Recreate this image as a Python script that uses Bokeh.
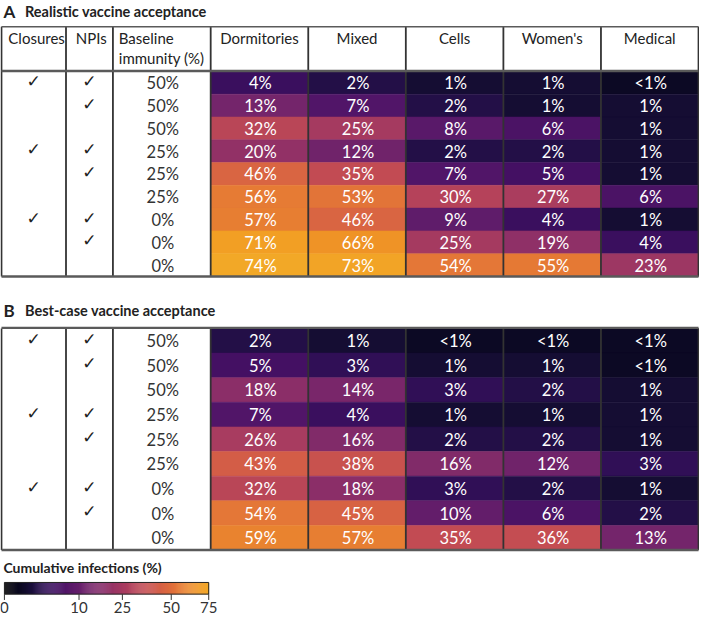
import numpy as np
from bokeh.plotting import figure
from bokeh.models import Range1d
from bokeh.core.properties import value
from bokeh.palettes import Inferno256
from bokeh.embed import file_html
from bokeh.resources import INLINE

# ---------------- data ----------------
settings = ["Dormitories", "Mixed", "Cells", "Women's", "Medical"]
closures = [1, 0, 0, 1, 0, 0, 1, 0, 0]
npis = [1, 1, 0, 1, 1, 0, 1, 1, 0]
baseline = [50, 50, 50, 25, 25, 25, 0, 0, 0]
# 0.5 stands for "<1%"
realistic = [
    [4, 2, 1, 1, 0.5],
    [13, 7, 2, 1, 1],
    [32, 25, 8, 6, 1],
    [20, 12, 2, 2, 1],
    [46, 35, 7, 5, 1],
    [56, 53, 30, 27, 6],
    [57, 46, 9, 4, 1],
    [71, 66, 25, 19, 4],
    [74, 73, 54, 55, 23],
]
best_case = [
    [2, 1, 0.5, 0.5, 0.5],
    [5, 3, 1, 1, 0.5],
    [18, 14, 3, 2, 1],
    [7, 4, 1, 1, 1],
    [26, 16, 2, 2, 1],
    [43, 38, 16, 12, 3],
    [32, 18, 3, 2, 1],
    [54, 45, 10, 6, 2],
    [59, 57, 35, 36, 13],
]
cbar_ticks = [0, 10, 25, 50, 75]
VMAX = 75.0
PAL_FRAC = 0.8

FONT = value("Lato")
CHECK_FONT = value("DejaVu Sans")


def frac(v):
    return np.sqrt(min(max(v, 0), VMAX) / VMAX)


def colour_at(p):
    h = Inferno256[int(round(p * PAL_FRAC * 255))]
    r, g, b = int(h[1:3], 16), int(h[3:5], 16), int(h[5:7], 16)
    L = 0.3 * r + 0.59 * g + 0.11 * b
    d = 0.12
    r, g, b = [c * (1 - d) + L * d for c in (r, g, b)]
    w = 0.05 * p
    r, g, b = [min(255, int(round(c + (255 - c) * w))) for c in (r, g, b)]
    return "#%02x%02x%02x" % (r, g, b)


def label(v):
    return "<1%" if v < 1 else f"{int(v)}%"


W, H = 699, 615
p = figure(width=W, height=H, x_range=Range1d(0, 715), y_range=Range1d(631, -2),
           output_backend="svg", toolbar_location=None, min_border=0,
           outline_line_color=None, background_fill_color="white")
p.axis.visible = False
p.grid.visible = False

# layout (reference pixel space)
LEFT_EDGES = [1, 67, 115, 215]
HEAT_L = 215.0
HEAT_W = 99.8
RIGHT = HEAT_L + HEAT_W * len(settings)
CLOS_X, NPI_X, BASE_X = 34, 91, 166
GRID_C = "#333333"
RULE_C = "#5a5a5a"
TXT = "#222222"


def draw_panel(letter, title, title_y, data, rows_top, row_h, header):
    p.text(x=[3], y=[title_y], text=[letter], text_font=FONT, text_font_style="bold",
           text_font_size="17px", text_baseline="middle", text_color=TXT)
    p.text(x=[25], y=[title_y], text=[title], text_font=FONT, text_font_style="bold",
           text_font_size="14.5px", text_baseline="middle", text_color=TXT)
    n = len(data)
    table_top = rows_top
    if header is not None:
        table_top = header
        hy = header + 11.5
        p.text(x=[8, 77, 121], y=[hy] * 3, text=["Closures", "NPIs", "Baseline"],
               text_font=FONT, text_font_size="15px", text_baseline="middle",
               text_color=TXT)
        p.text(x=[121], y=[hy + 21], text=["immunity (%)"], text_font=FONT,
               text_font_size="15px", text_baseline="middle", text_color=TXT)
        cx = [HEAT_L + HEAT_W * (j + 0.5) for j in range(len(settings))]
        p.text(x=cx, y=[hy] * len(settings), text=settings, text_font=FONT,
               text_font_size="15px", text_baseline="middle", text_align="center",
               text_color=TXT)
    bottom = rows_top + row_h * n
    # cells
    lefts, rights, tops, bots, cols, xs, ys, labs = [], [], [], [], [], [], [], []
    for i, row in enumerate(data):
        for j, v in enumerate(row):
            l = HEAT_L + HEAT_W * j
            t = rows_top + row_h * i
            lefts.append(l)
            rights.append(l + HEAT_W)
            tops.append(t)
            bots.append(t + row_h)
            cols.append(colour_at(frac(v)))
            xs.append(l + HEAT_W / 2 + 1)
            ys.append(t + row_h / 2 + 0.5)
            labs.append(label(v))
    p.quad(left=lefts, right=rights, top=tops, bottom=bots, fill_color=cols,
           line_color=cols, line_width=0.5)
    p.text(x=xs, y=ys, text=labs, text_font=FONT, text_font_size="16.5px",
           text_baseline="middle", text_align="center", text_color="white")
    # left columns
    rc = [rows_top + row_h * (i + 0.5) for i in range(n)]
    cy = [y - 2 for y, c in zip(rc, closures) if c]
    p.text(x=[CLOS_X] * len(cy), y=cy, text=["✓"] * len(cy), text_font=CHECK_FONT,
           text_font_size="17px", text_baseline="middle", text_align="center",
           text_color=TXT)
    ny = [y - 2 for y, c in zip(rc, npis) if c]
    p.text(x=[NPI_X] * len(ny), y=ny, text=["✓"] * len(ny), text_font=CHECK_FONT,
           text_font_size="17px", text_baseline="middle", text_align="center",
           text_color=TXT)
    p.text(x=[BASE_X] * n, y=[y + 0.5 for y in rc], text=[f"{b}%" for b in baseline],
           text_font=FONT, text_font_size="16.5px", text_baseline="middle",
           text_align="center", text_color="#333333")
    # grid lines
    vx = LEFT_EDGES + [HEAT_L + HEAT_W * (j + 1) for j in range(len(settings))]
    p.segment(x0=vx, x1=vx, y0=[table_top] * len(vx), y1=[bottom] * len(vx),
              line_color=GRID_C, line_width=1.8)
    if header is not None:
        p.segment(x0=[1], x1=[RIGHT], y0=[table_top], y1=[table_top],
                  line_color=RULE_C, line_width=1.5)
    p.segment(x0=[1], x1=[RIGHT], y0=[rows_top - 0.5], y1=[rows_top - 0.5],
              line_color=RULE_C, line_width=2.4)
    p.segment(x0=[1], x1=[RIGHT], y0=[bottom], y1=[bottom],
              line_color=RULE_C, line_width=2.4)


draw_panel("A", "Realistic vaccine acceptance", 9, realistic, 71.0, 23.45, 25)
draw_panel("B", "Best-case vaccine acceptance", 317, best_case, 335.5, 25.35, None)

# ---------------- colour bar ----------------
CB_L, CB_R, CB_T, CB_B = 4.0, 213.0, 597.0, 609.0
p.text(x=[3], y=[582], text=["Cumulative infections (%)"], text_font=FONT,
       text_font_style="bold", text_font_size="14px", text_baseline="middle",
       text_color=TXT)
nseg = 200
edges = np.linspace(CB_L, CB_R, nseg + 1)
seg_cols = [colour_at((k + 0.5) / nseg) for k in range(nseg)]
p.quad(left=edges[:-1], right=edges[1:] + 0.3, top=[CB_T] * nseg, bottom=[CB_B] * nseg,
       fill_color=seg_cols, line_color=None)
p.quad(left=[CB_L], right=[CB_R], top=[CB_T], bottom=[CB_B], fill_color=None,
       line_color="#222222", line_width=1)
tx = [CB_L + frac(v) * (CB_R - CB_L) for v in cbar_ticks]
p.segment(x0=tx, x1=tx, y0=[CB_B] * len(tx), y1=[CB_B + 6] * len(tx),
          line_color="#333333", line_width=1)
p.text(x=tx, y=[CB_B + 14] * len(tx), text=[str(v) for v in cbar_ticks],
       text_font=FONT, text_font_size="15px", text_baseline="middle",
       text_align="center", text_color="#333333")

open("out.html", "w").write(file_html(p, INLINE))
